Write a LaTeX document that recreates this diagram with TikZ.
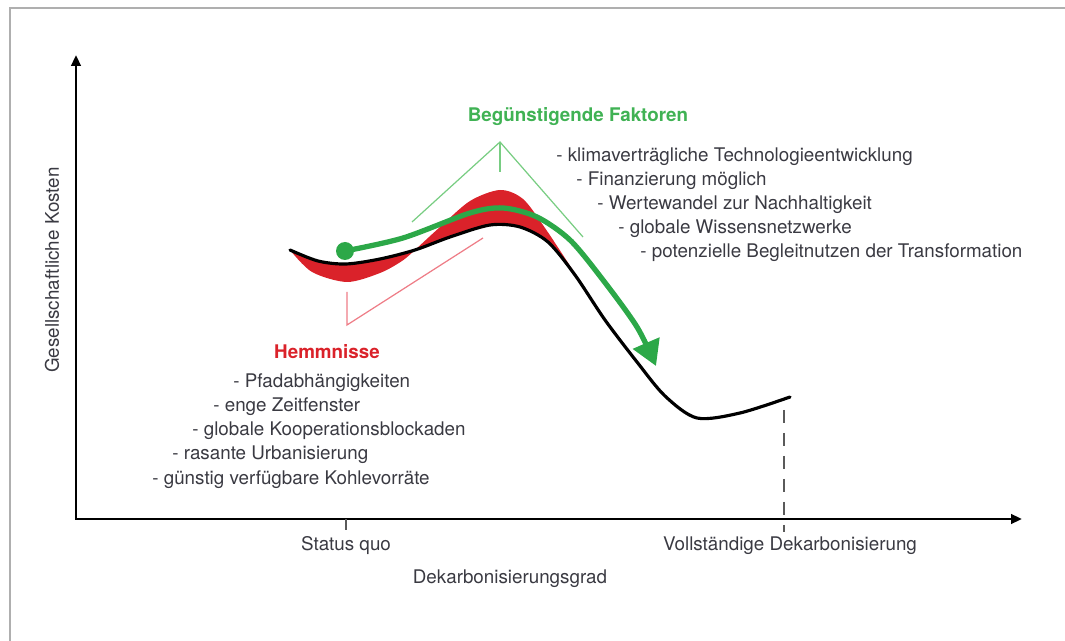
\documentclass[tikz,border=0pt]{standalone}
\usepackage{fontspec}
\setmainfont{TeX Gyre Heros}
\usepackage{xcolor}
\usetikzlibrary{arrows.meta}
\usetikzlibrary{positioning}

\definecolor{txtgray}{RGB}{58,58,66}
\definecolor{framegray}{RGB}{175,175,175}
\definecolor{tickgray}{RGB}{90,90,90}
\definecolor{arrowgreen}{RGB}{44,168,72}
\definecolor{titlegreen}{RGB}{64,178,84}
\definecolor{lightgreen}{RGB}{120,205,130}
\definecolor{lobered}{RGB}{218,34,42}
\definecolor{lightred}{RGB}{238,125,135}

\begin{document}
\begin{tikzpicture}[x=0.02cm,y=-0.02cm]

% used shapes
\tikzstyle{txt} = [text=txtgray, inner sep=0pt, font=\fontsize{10.7}{13}\selectfont]
\tikzstyle{listline} = [txt, anchor=west]
\tikzstyle{heading} = [inner sep=0pt, font=\fontsize{10.7}{13}\selectfont\bfseries]
\tikzstyle{axis} = [line width=1.5pt, -{Triangle[length=0.22cm, width=0.19cm]}]
\tikzstyle{bracketgreen} = [draw=lightgreen, line width=0.7pt]
\tikzstyle{bracketred} = [draw=lightred, line width=0.7pt]

\useasboundingbox (0,0) rectangle (1065,641);
\draw[framegray, line width=0.8pt] (10,641) -- (10,8) -- (1065,8);

% axes
\coordinate (origin) at (76,519);
\coordinate (ytop) at (76,55);
\coordinate (xend) at (1022,519);
\draw[axis] (76,520) -- (ytop);
\draw[axis] (75,519) -- (xend);

\node[txt, rotate=90] (ylab) at (52,270) {Gesellschaftliche Kosten};
\node[txt] (xlab) at (510,579) {Dekarbonisierungsgrad};

% status quo / full decarbonisation marks
\coordinate (sq) at (346,519);
\coordinate (sqlow) at (346,530);
\draw[tickgray, line width=0.6pt] (sq) -- (sqlow);
\node[txt] (sqlab) at (346,546) {Status quo};

\coordinate (vdtop) at (784,410);
\coordinate (vdlow) at (784,532);
\draw[tickgray, line width=0.8pt, dash pattern=on 0.26cm off 0.2cm] (vdtop) -- (vdlow);
\node[txt] (vdlab) at (790,546) {Vollständige Dekarbonisierung};

% red lobes around the cost curve
\fill[lobered] plot[smooth] coordinates {(290,250) (318,261) (346,264) (380,259) (415,250)}
  -- plot[smooth] coordinates {(415,250) (402,261) (380,273) (347,282) (312,272) (290,250)} -- cycle;
\fill[lobered] plot[smooth] coordinates {(415,250) (440,227) (470,201) (500,190) (523,199) (545,228) (574,272)}
  -- plot[smooth] coordinates {(574,272) (548,242) (520,227) (490,225) (450,237) (415,250)} -- cycle;

% cost curve
\draw[line width=1.8pt, line cap=round] plot[smooth] coordinates {(290,250) (318,261) (346,264) (380,259)
  (415,250) (450,237) (490,225) (520,227) (548,242) (575,275) (605,320) (637,362) (665,396)
  (697,418) (740,413) (790,397)};

% path of the transformation
\node[circle, fill=arrowgreen, inner sep=0pt, minimum size=0.36cm] (start) at (345,251) {};
\draw[arrowgreen, line width=3pt, -{Triangle[length=0.5cm, width=0.56cm]}] plot[smooth] coordinates {(start.center)
  (403,238) (470,213) (503,208) (537,217) (570,240) (603,280) (637,327) (656,366)};

% brackets
\coordinate (gapex) at (500,142);
\coordinate (gleft) at (412,222);
\coordinate (gright) at (583,237);
\coordinate (gstem) at (500,172);
\draw[bracketgreen] (gleft) -- (gapex) -- (gright);
\draw[bracketgreen] (gapex) -- (gstem);

\coordinate (rtop) at (347,292);
\coordinate (rcorner) at (347,325);
\coordinate (rright) at (483,238);
\draw[bracketred] (rtop) -- (rcorner) -- (rright);

% favourable factors
\node[heading, text=titlegreen] (fav) at (578,117) {Begünstigende Faktoren};
\node[listline] (f1) at (556,157) {- klimaverträgliche Technologieentwicklung};
\node[listline] (f2) at (576,181) {- Finanzierung möglich};
\node[listline] (f3) at (597,205) {- Wertewandel zur Nachhaltigkeit};
\node[listline] (f4) at (618,229) {- globale Wissensnetzwerke};
\node[listline] (f5) at (640,253) {- potenzielle Begleitnutzen der Transformation};

% barriers
\node[heading, text=lobered] (barr) at (327,352) {Hemmnisse};
\node[listline] (h1) at (233,383) {- Pfadabhängigkeiten};
\node[listline] (h2) at (213,407) {- enge Zeitfenster};
\node[listline] (h3) at (192,431) {- globale Kooperationsblockaden};
\node[listline] (h4) at (172,455) {- rasante Urbanisierung};
\node[listline] (h5) at (152,480) {- günstig verfügbare Kohlevorräte};

\end{tikzpicture}
\end{document}
